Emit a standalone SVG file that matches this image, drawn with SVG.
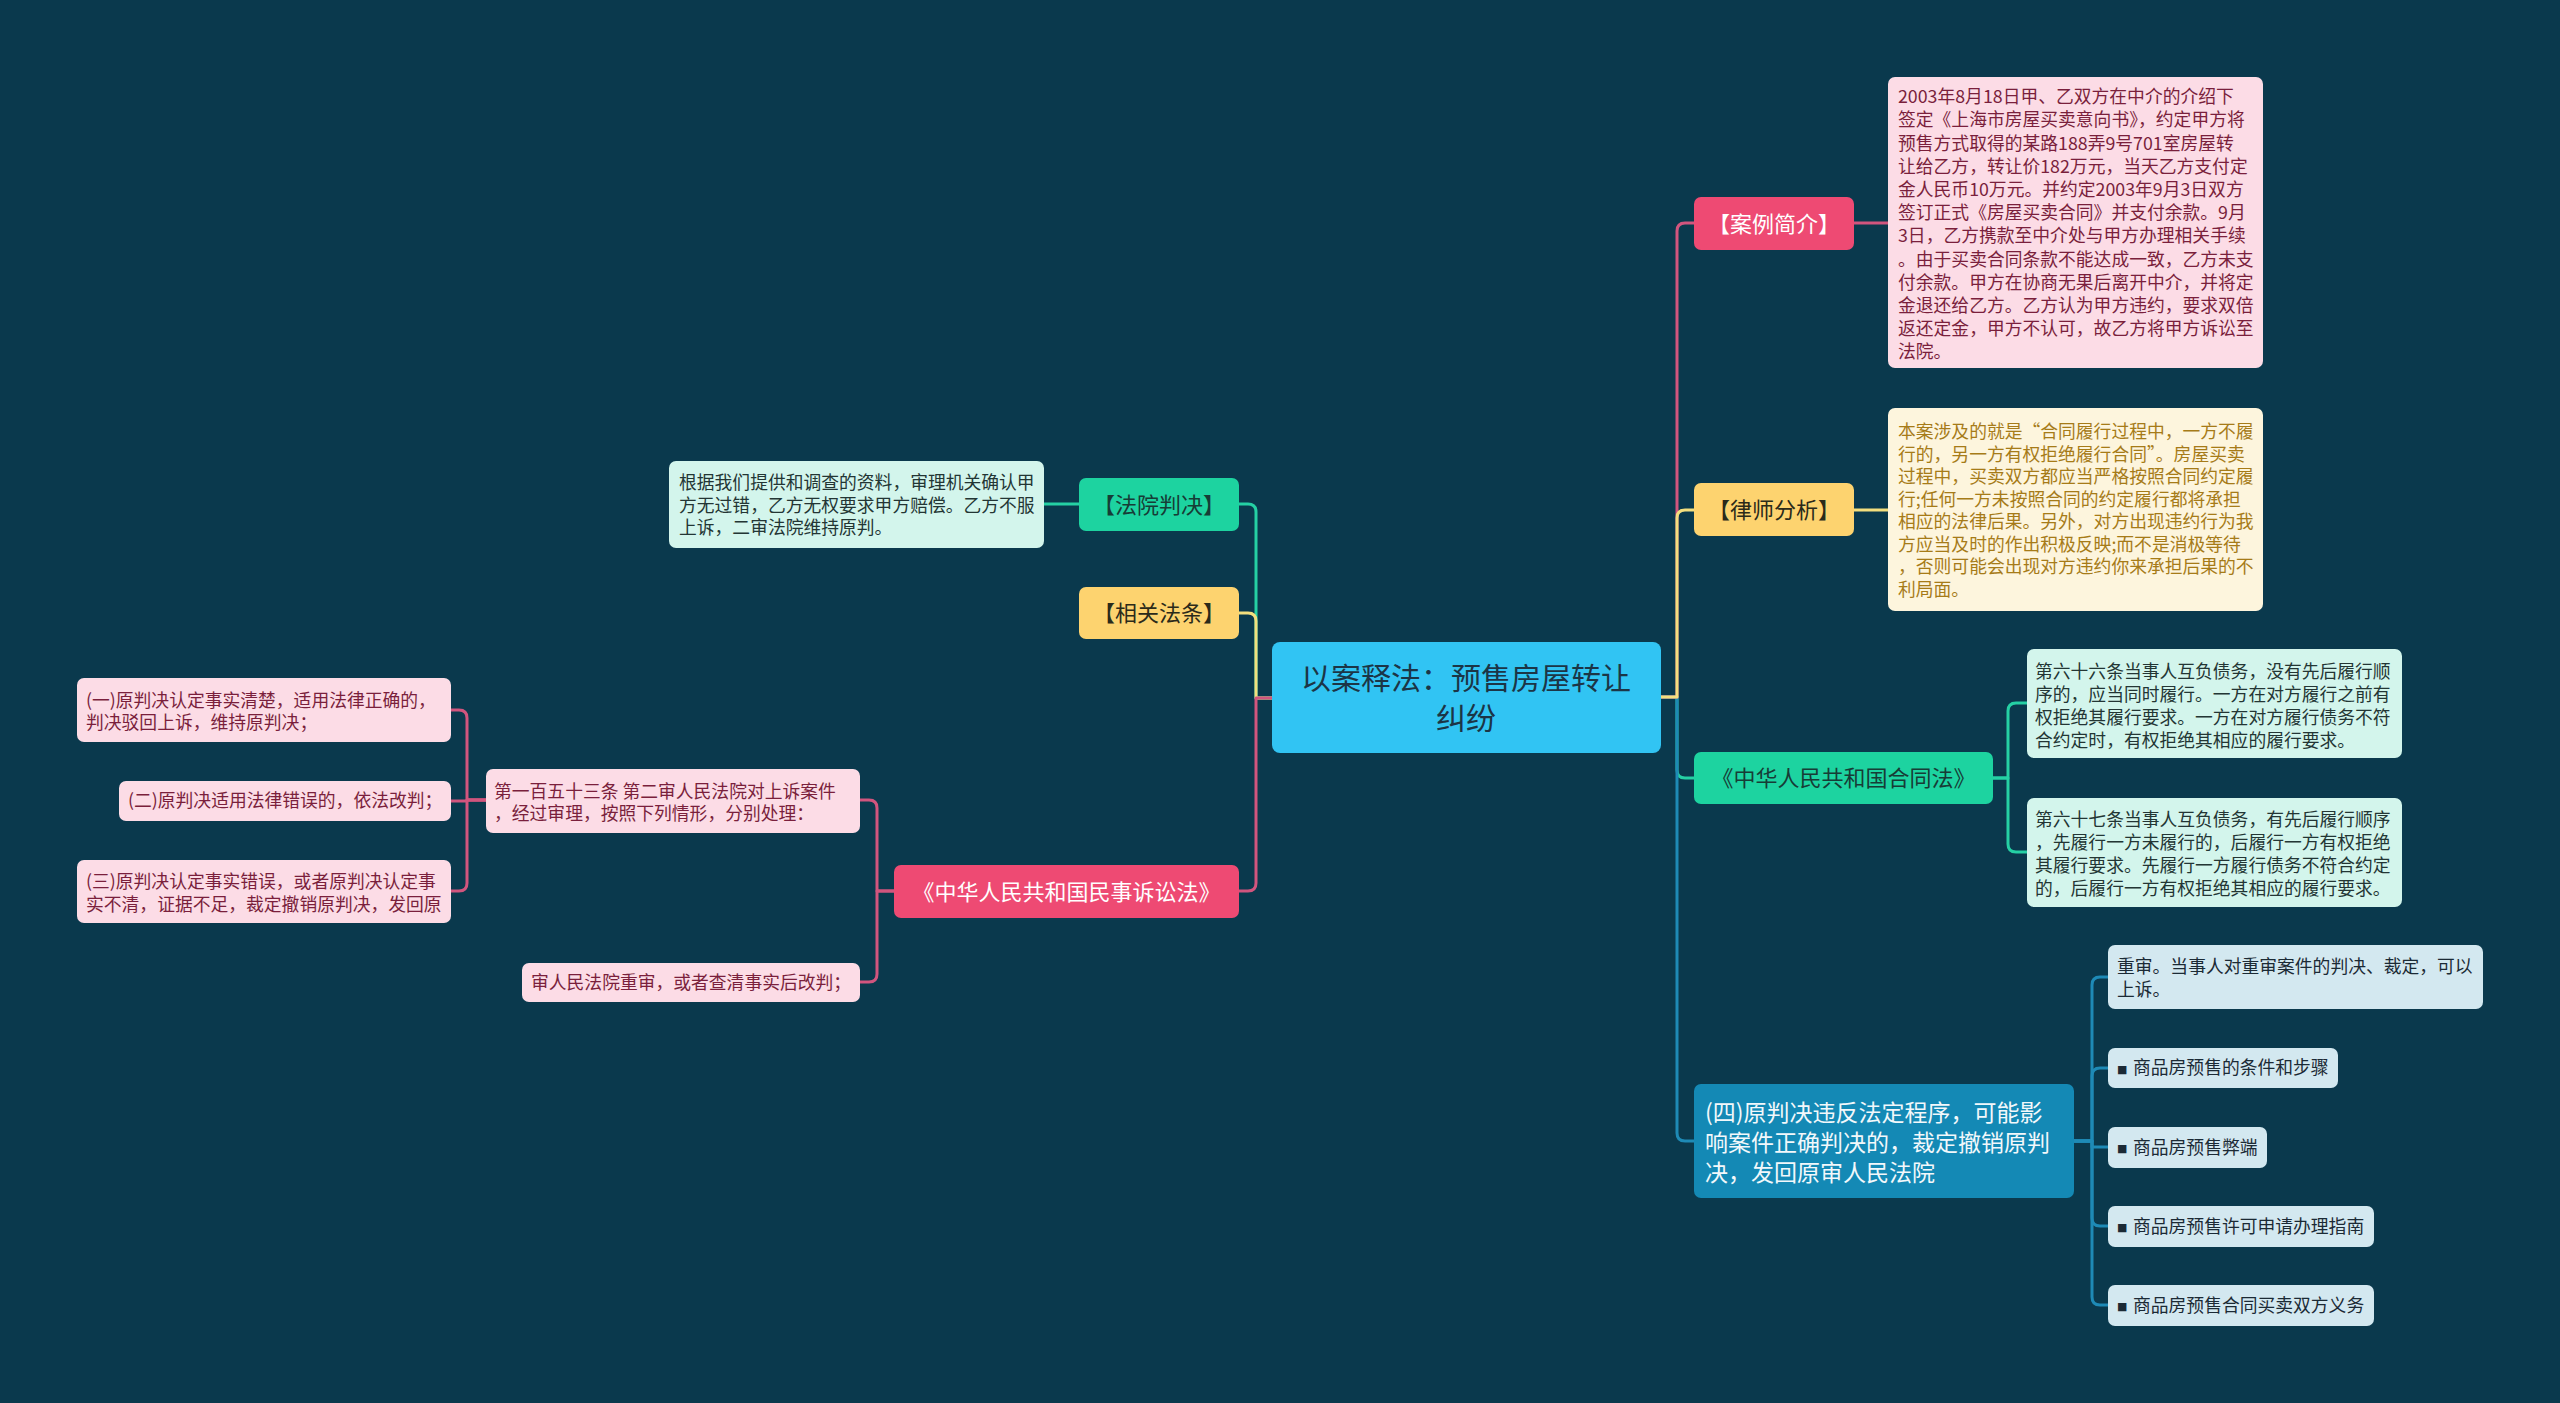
<svg xmlns="http://www.w3.org/2000/svg" width="2560" height="1403" viewBox="0 0 2560 1403">
<style>
text{font-family:"Noto Sans CJK SC","Noto Sans",sans-serif;}
.ln{fill:none;stroke-width:3;stroke-linecap:round;stroke-linejoin:round;}
.lp{stroke:#d1557e;}
.ly{stroke:#f3df7e;}
.lg{stroke:#25d0a4;}
.lb{stroke:#1e8ab6;}
.pk{fill:#ee4a73;}
.yw{fill:#fdd36f;}
.gn{fill:#1dd3a0;}
.bl{fill:#1489b5;}
.ctr{fill:#31c4f3;}
.dpk{fill:#fcdce6;}
.dcr{fill:#fdf5dd;}
.dmn{fill:#d3f5ec;}
.dbl{fill:#d3e8f0;}
.t1{font-size:22px;text-anchor:middle;}
.tc{font-size:30px;text-anchor:middle;fill:#1c3546;}
.td{font-size:17.8px;}
.tw{fill:#ffffff;}
.tk{fill:#2b2a1a;}
.tgk{fill:#173c36;}
.tpk{fill:#7a1f3c;}
.tcr{fill:#a67b18;}
.tmn{fill:#233534;}
.tbl{fill:#1b2a35;}
.sq{font-family:"DejaVu Sans",sans-serif;font-size:11px;}
</style>
<rect x="0" y="0" width="2560" height="1403" fill="#0a394d"/>
<g id="connectors">
  <path class="ln lg" d="M1272,698 H1256 V512 Q1256,504 1248,504 H1239"/>
  <path class="ln ly" d="M1272,698 H1256 V621 Q1256,613 1248,613 H1239"/>
  <path class="ln lp" d="M1272,698 H1256 V883 Q1256,891 1248,891 H1239"/>
  <path class="ln lg" d="M1079,504 H1044"/>
  <path class="ln lp" d="M894,891 H877 V808 Q877,800 869,800 H860"/>
  <path class="ln lp" d="M894,891 H877 V974 Q877,982 869,982 H860"/>
  <path class="ln lp" d="M486,800 H467 V718 Q467,710 459,710 H451"/>
  <path class="ln lp" d="M486,800 H467 V801 H451"/>
  <path class="ln lp" d="M486,800 H467 V883 Q467,891 459,891 H451"/>
  <path class="ln lg" d="M1661,697 H1677 V770 Q1677,778 1685,778 H1694"/>
  <path class="ln lb" d="M1661,697 H1677 V1133 Q1677,1141 1685,1141 H1694"/>
  <path class="ln lp" d="M1661,697 H1677 V231 Q1677,223 1685,223 H1694"/>
  <path class="ln ly" d="M1661,697 H1677 V518 Q1677,510 1685,510 H1694"/>
  <path class="ln lp" d="M1854,223 H1888"/>
  <path class="ln ly" d="M1854,510 H1888"/>
  <path class="ln lg" d="M1993,778 H2008 V711 Q2008,703 2016,703 H2027"/>
  <path class="ln lg" d="M1993,778 H2008 V844 Q2008,852 2016,852 H2027"/>
  <path class="ln lb" d="M2074,1141 H2092 V985 Q2092,977 2100,977 H2108"/>
  <path class="ln lb" d="M2074,1141 H2092 V1076 Q2092,1068 2100,1068 H2108"/>
  <path class="ln lb" d="M2074,1141 H2092 V1147 H2108"/>
  <path class="ln lb" d="M2074,1141 H2092 V1218 Q2092,1226 2100,1226 H2108"/>
  <path class="ln lb" d="M2074,1141 H2092 V1297 Q2092,1305 2100,1305 H2108"/>
</g>
<g id="center">
  <rect class="ctr" x="1272" y="642" width="389" height="111" rx="8"/>
  <text class="tc" x="1466" y="689">以案释法：预售房屋转让</text>
  <text class="tc" x="1466" y="729">纠纷</text>
</g>
<g id="n-anli">
  <rect class="pk" x="1694" y="197" width="160" height="53" rx="7"/>
  <text class="t1 tw" x="1774" y="231.5">【案例简介】</text>
</g>
<g id="n-anli-d">
  <rect class="dpk" x="1888" y="77" width="375" height="291" rx="7"/>
  <text class="td tpk">
    <tspan x="1898" y="103.1">2003年8月18日甲、乙双方在中介的介绍下</tspan>
    <tspan x="1898" y="126.3">签定《上海市房屋买卖意向书》，约定甲方将</tspan>
    <tspan x="1898" y="149.5">预售方式取得的某路188弄9号701室房屋转</tspan>
    <tspan x="1898" y="172.7">让给乙方，转让价182万元，当天乙方支付定</tspan>
    <tspan x="1898" y="195.9">金人民币10万元。并约定2003年9月3日双方</tspan>
    <tspan x="1898" y="219.1">签订正式《房屋买卖合同》并支付余款。9月</tspan>
    <tspan x="1898" y="242.3">3日，乙方携款至中介处与甲方办理相关手续</tspan>
    <tspan x="1898" y="265.5">。由于买卖合同条款不能达成一致，乙方未支</tspan>
    <tspan x="1898" y="288.7">付余款。甲方在协商无果后离开中介，并将定</tspan>
    <tspan x="1898" y="311.9">金退还给乙方。乙方认为甲方违约，要求双倍</tspan>
    <tspan x="1898" y="335.1">返还定金，甲方不认可，故乙方将甲方诉讼至</tspan>
    <tspan x="1898" y="358.3">法院。</tspan>
  </text>
</g>
<g id="n-lvshi">
  <rect class="yw" x="1694" y="483" width="160" height="53" rx="7"/>
  <text class="t1 tk" x="1774" y="517.5">【律师分析】</text>
</g>
<g id="n-lvshi-d">
  <rect class="dcr" x="1888" y="408" width="375" height="203" rx="7"/>
  <text class="td tcr">
    <tspan x="1898" y="438">本案涉及的就是“合同履行过程中，一方不履</tspan>
    <tspan x="1898" y="460.5">行的，另一方有权拒绝履行合同”。房屋买卖</tspan>
    <tspan x="1898" y="483">过程中，买卖双方都应当严格按照合同约定履</tspan>
    <tspan x="1898" y="505.5">行;任何一方未按照合同的约定履行都将承担</tspan>
    <tspan x="1898" y="528">相应的法律后果。另外，对方出现违约行为我</tspan>
    <tspan x="1898" y="550.5">方应当及时的作出积极反映;而不是消极等待</tspan>
    <tspan x="1898" y="573">，否则可能会出现对方违约你来承担后果的不</tspan>
    <tspan x="1898" y="595.5">利局面。</tspan>
  </text>
</g>
<g id="n-hetong">
  <rect class="gn" x="1694" y="752" width="299" height="52" rx="7"/>
  <text class="t1 tgk" x="1843.5" y="786">《中华人民共和国合同法》</text>
</g>
<g id="n-hetong-66">
  <rect class="dmn" x="2027" y="649" width="375" height="109" rx="7"/>
  <text class="td tmn">
    <tspan x="2035" y="678.4">第六十六条当事人互负债务，没有先后履行顺</tspan>
    <tspan x="2035" y="701.2">序的，应当同时履行。一方在对方履行之前有</tspan>
    <tspan x="2035" y="724">权拒绝其履行要求。一方在对方履行债务不符</tspan>
    <tspan x="2035" y="746.8">合约定时，有权拒绝其相应的履行要求。</tspan>
  </text>
</g>
<g id="n-hetong-67">
  <rect class="dmn" x="2027" y="798" width="375" height="109" rx="7"/>
  <text class="td tmn">
    <tspan x="2035" y="826.4">第六十七条当事人互负债务，有先后履行顺序</tspan>
    <tspan x="2035" y="849.2">，先履行一方未履行的，后履行一方有权拒绝</tspan>
    <tspan x="2035" y="872">其履行要求。先履行一方履行债务不符合约定</tspan>
    <tspan x="2035" y="894.8">的，后履行一方有权拒绝其相应的履行要求。</tspan>
  </text>
</g>
<g id="n-si">
  <rect class="bl" x="1694" y="1084" width="380" height="114" rx="7"/>
  <text font-size="23" fill="#f2f8fb">
    <tspan x="1705" y="1121.3">(四)原判决违反法定程序，可能影</tspan>
    <tspan x="1705" y="1151.3">响案件正确判决的，裁定撤销原判</tspan>
    <tspan x="1705" y="1181.3">决，发回原审人民法院</tspan>
  </text>
</g>
<g id="n-si-1">
  <rect class="dbl" x="2108" y="945" width="375" height="64" rx="7"/>
  <text class="td tbl">
    <tspan x="2117" y="973.4">重审。当事人对重审案件的判决、裁定，可以</tspan>
    <tspan x="2117" y="996.4">上诉。</tspan>
  </text>
</g>
<g id="n-si-2">
  <rect class="dbl" x="2108" y="1048" width="230" height="40" rx="7"/>
  <text class="td tbl"><tspan class="sq" x="2117" y="1072.5">■</tspan><tspan x="2133" y="1074.4">商品房预售的条件和步骤</tspan></text>
</g>
<g id="n-si-3">
  <rect class="dbl" x="2108" y="1127" width="159" height="41" rx="7"/>
  <text class="td tbl"><tspan class="sq" x="2117" y="1152">■</tspan><tspan x="2133" y="1153.9">商品房预售弊端</tspan></text>
</g>
<g id="n-si-4">
  <rect class="dbl" x="2108" y="1206" width="266" height="41" rx="7"/>
  <text class="td tbl"><tspan class="sq" x="2117" y="1231">■</tspan><tspan x="2133" y="1232.9">商品房预售许可申请办理指南</tspan></text>
</g>
<g id="n-si-5">
  <rect class="dbl" x="2108" y="1285" width="266" height="41" rx="7"/>
  <text class="td tbl"><tspan class="sq" x="2117" y="1310">■</tspan><tspan x="2133" y="1311.9">商品房预售合同买卖双方义务</tspan></text>
</g>
<g id="n-fayuan">
  <rect class="gn" x="1079" y="478" width="160" height="53" rx="7"/>
  <text class="t1 tgk" x="1159" y="512.5">【法院判决】</text>
</g>
<g id="n-fayuan-d">
  <rect class="dmn" x="669" y="461" width="375" height="87" rx="7"/>
  <text class="td tmn">
    <tspan x="679" y="489.4">根据我们提供和调查的资料，审理机关确认甲</tspan>
    <tspan x="679" y="511.9">方无过错，乙方无权要求甲方赔偿。乙方不服</tspan>
    <tspan x="679" y="534.4">上诉，二审法院维持原判。</tspan>
  </text>
</g>
<g id="n-fatiao">
  <rect class="yw" x="1079" y="587" width="160" height="52" rx="7"/>
  <text class="t1 tk" x="1159" y="621">【相关法条】</text>
</g>
<g id="n-minsu">
  <rect class="pk" x="894" y="865" width="345" height="53" rx="7"/>
  <text class="t1 tw" x="1066.5" y="899.5">《中华人民共和国民事诉讼法》</text>
</g>
<g id="n-153">
  <rect class="dpk" x="486" y="769" width="374" height="64" rx="7"/>
  <text class="td tpk">
    <tspan x="494" y="798.4">第一百五十三条 第二审人民法院对上诉案件</tspan>
    <tspan x="494" y="820.4">，经过审理，按照下列情形，分别处理：</tspan>
  </text>
</g>
<g id="n-chongshen">
  <rect class="dpk" x="522" y="963" width="338" height="39" rx="7"/>
  <text class="td tpk" x="531" y="988.9">审人民法院重审，或者查清事实后改判；</text>
</g>
<g id="n-yi">
  <rect class="dpk" x="77" y="678" width="374" height="64" rx="7"/>
  <text class="td tpk">
    <tspan x="86" y="707.4">(一)原判决认定事实清楚，适用法律正确的，</tspan>
    <tspan x="86" y="729.4">判决驳回上诉，维持原判决；</tspan>
  </text>
</g>
<g id="n-er">
  <rect class="dpk" x="119" y="781" width="332" height="40" rx="7"/>
  <text class="td tpk" x="128" y="807.4">(二)原判决适用法律错误的，依法改判；</text>
</g>
<g id="n-san">
  <rect class="dpk" x="77" y="860" width="374" height="63" rx="7"/>
  <text class="td tpk">
    <tspan x="86" y="888.4">(三)原判决认定事实错误，或者原判决认定事</tspan>
    <tspan x="86" y="911.4">实不清，证据不足，裁定撤销原判决，发回原</tspan>
  </text>
</g>
</svg>
